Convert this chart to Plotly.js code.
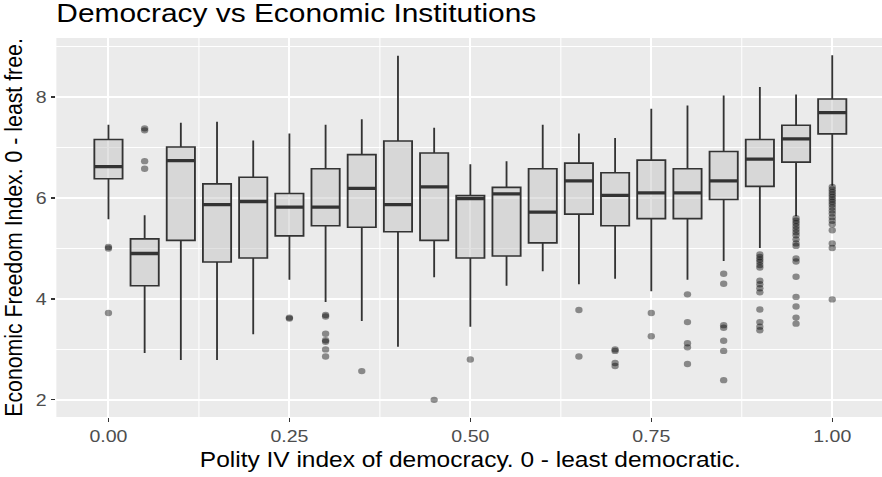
<!DOCTYPE html>
<html>
<head>
<meta charset="utf-8">
<script src="https://cdn.plot.ly/plotly-3.0.1.min.js"></script>
<style>
html,body{margin:0;padding:0;overflow:hidden;background:#ffffff;width:882px;height:477px;}
#wrap{width:882px;height:477px;overflow:hidden;position:relative;}
#chart{width:770px;height:477px;transform:scale(1.15,1);transform-origin:0 0;}
</style>
</head>
<body>
<div id="wrap"><div id="chart"></div></div>
<script>
// Polity IV index categories (box positions)
const polity = [0.00,0.05,0.10,0.15,0.20,0.25,0.30,0.35,0.40,0.45,0.50,
                0.55,0.60,0.65,0.70,0.75,0.80,0.85,0.90,0.95,1.00];
// Box statistics of the Economic Freedom Index
const upperWhisker = [7.45,5.66,7.49,7.51,7.14,7.28,7.45,7.56,8.82,7.39,6.67,
                      6.73,7.45,7.28,7.19,7.77,7.83,8.03,8.20,8.05,8.83];
const q3Vals       = [7.16,5.19,7.01,6.28,6.41,6.09,6.58,6.86,7.13,6.89,6.05,
                      6.21,6.58,6.69,6.50,6.75,6.58,6.92,7.16,7.44,7.96];
const medianVals   = [6.62,4.90,6.74,5.87,5.93,5.82,5.82,6.19,5.87,6.22,5.99,
                      6.08,5.72,6.34,6.05,6.10,6.10,6.34,6.77,7.17,7.69];
const q1Vals       = [6.38,4.26,5.16,4.73,4.81,5.25,5.45,5.42,5.33,5.16,4.81,
                      4.85,5.11,5.68,5.45,5.59,5.59,5.97,6.23,6.71,7.27];
const lowerWhisker = [5.58,2.93,2.79,2.79,3.30,4.38,3.94,3.56,3.05,4.43,3.45,
                      4.26,4.55,4.29,4.40,4.15,4.38,4.75,5.01,5.64,6.24];
// Outliers per category
const outliers = [
  [5.03,5.00,3.72],
  [7.38,7.34,6.73,6.58],
  [],
  [],
  [],
  [3.63,3.61],
  [3.68,3.65,3.31,3.18,3.15,3.00,2.86],
  [2.57],
  [],
  [2.00],
  [2.80],
  [],
  [],
  [3.78,2.86],
  [3.00,2.97,2.73,2.67],
  [3.72,3.26],
  [4.09,3.54,3.12,3.04,2.71],
  [4.50,4.30,3.48,3.43,3.17,2.97,2.39],
  [4.88,4.83,4.78,4.73,4.67,4.62,4.36,4.29,4.21,4.13,3.79,3.54,3.45,3.38],
  [5.60,5.55,5.50,5.44,5.38,5.32,5.26,5.18,5.10,5.05,4.80,4.74,4.44,4.04,3.85,3.63,3.51],
  [6.22,6.17,6.12,6.07,6.02,5.97,5.92,5.87,5.81,5.75,5.69,5.62,5.55,5.48,5.36,5.10,5.01,3.99]
];
// Tick labels
const xTickVals = [0,0.25,0.5,0.75,1];
const xTickText = ['0.00','0.25','0.50','0.75','1.00'];
const yTickVals = [2,4,6,8];
const yTickText = ['2','4','6','8'];

const FONT = '"Liberation Sans", Arial, Helvetica, sans-serif';
const BOXW = 0.039;
const EDGE = '#333333';

const outX = [], outY = [];
outliers.forEach((arr, i) => arr.forEach(v => { outX.push(polity[i]); outY.push(v); }));

const medX = [], medY = [];
polity.forEach((p, i) => { medX.push(p - BOXW/2, p + BOXW/2, null); medY.push(medianVals[i], medianVals[i], null); });

const traces = [
  {
    type: 'scatter', mode: 'markers', x: outX, y: outY,
    marker: {size: 6.4, color: 'rgba(0,0,0,0.42)', line: {width: 0}},
    hoverinfo: 'skip', showlegend: false
  },
  {
    type: 'box', orientation: 'v', x: polity,
    q1: q1Vals, median: medianVals, q3: q3Vals,
    lowerfence: lowerWhisker, upperfence: upperWhisker,
    width: BOXW, whiskerwidth: 0, boxpoints: false,
    fillcolor: 'rgba(190,190,190,0.45)',
    line: {color: EDGE, width: 1.6},
    hoverinfo: 'skip', showlegend: false
  },
  {
    type: 'scatter', mode: 'lines', x: medX, y: medY,
    line: {color: EDGE, width: 3.3}, hoverinfo: 'skip', showlegend: false
  }
];

const layout = {
  width: 770, height: 477,
  margin: {l: 49.3, r: 0.5, t: 37.6, b: 59.8, pad: 0},
  paper_bgcolor: '#ffffff', plot_bgcolor: '#EBEBEB',
  showlegend: false,
  font: {family: FONT, color: '#000000'},
  title: {
    text: 'Democracy vs Economic Institutions',
    font: {family: FONT, size: 26, color: '#000000'},
    x: 0, xref: 'paper', xanchor: 'left',
    y: 1 - 12.8/477, yref: 'container', yanchor: 'middle'
  },
  xaxis: {
    range: [-0.072, 1.072], autorange: false,
    tickmode: 'array', tickvals: xTickVals, ticktext: xTickText,
    showgrid: true, gridcolor: '#ffffff', gridwidth: 1.8,
    minor: {tickmode: 'linear', tick0: 0.125, dtick: 0.25, showgrid: true, gridcolor: '#ffffff', gridwidth: 0.9, ticks: ''},
    ticks: 'outside', ticklen: 4, tickwidth: 1.2, tickcolor: EDGE,
    tickfont: {family: FONT, size: 17, color: '#4D4D4D'},
    zeroline: false, showline: false, automargin: false,
    title: {text: 'Polity IV index of democracy. 0 - least democratic.', font: {family: FONT, size: 21.3, color: '#000000'}, standoff: 6}
  },
  yaxis: {
    range: [1.66, 9.17], autorange: false,
    tickmode: 'array', tickvals: yTickVals, ticktext: yTickText,
    showgrid: true, gridcolor: '#ffffff', gridwidth: 2,
    minor: {tickmode: 'linear', tick0: 1, dtick: 2, showgrid: true, gridcolor: '#ffffff', gridwidth: 1, ticks: ''},
    ticks: 'outside', ticklen: 4, tickwidth: 1.2, tickcolor: EDGE,
    tickfont: {family: FONT, size: 17, color: '#4D4D4D'},
    zeroline: false, showline: false, automargin: false,
    title: {text: 'Economic Freedom Index. 0 - least free.', font: {family: FONT, size: 21.3, color: '#000000'}, standoff: 6}
  }
};

Plotly.newPlot('chart', traces, layout, {displayModeBar: false, staticPlot: true});
</script>
</body>
</html>
